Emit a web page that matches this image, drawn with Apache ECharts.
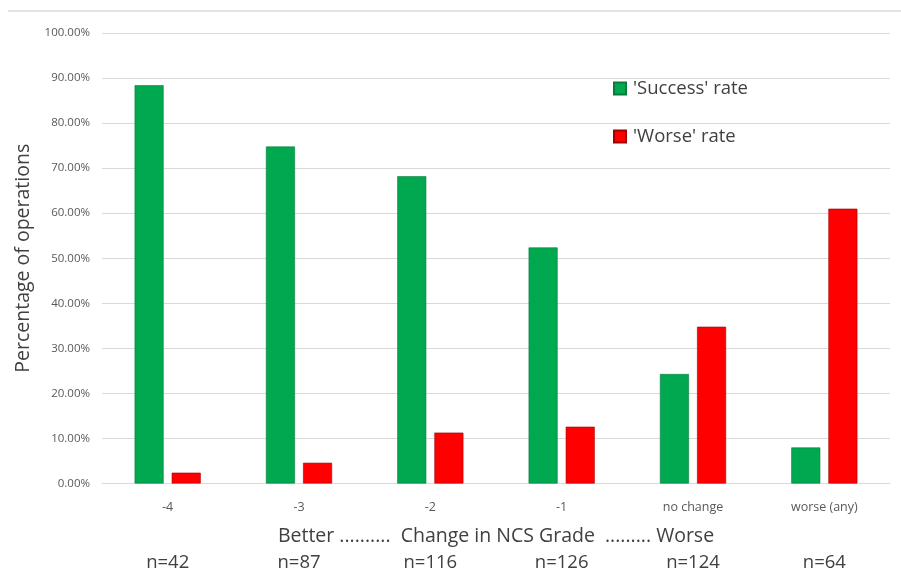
<!DOCTYPE html>
<html>
<head>
<meta charset="utf-8">
<script src="https://cdn.jsdelivr.net/npm/echarts@6/dist/echarts.min.js"></script>
<style>
  html, body { margin: 0; padding: 0; background: #ffffff; }
  #chart { width: 901px; height: 570px; }
</style>
</head>
<body>
<div id="chart"></div>
<script>
// Change in NCS grade categories
const categories = ['-4', '-3', '-2', '-1', 'no change', 'worse (any)'];
// Number of operations per category
const sampleSizes = ['n=42', 'n=87', 'n=116', 'n=126', 'n=124', 'n=64'];
// Rates in percent
const successRate = [88.4, 74.8, 68.2, 52.4, 24.3, 8.0];
const worseRate = [2.4, 4.6, 11.3, 12.6, 34.8, 61.0];
// Y-axis tick range (percent)
const yMin = 0, yMax = 100, yStep = 10;

const FONT = '"Open Sans", "Noto Sans", sans-serif';

const chart = echarts.init(document.getElementById('chart'), null, { renderer: 'canvas' });

chart.setOption({
  backgroundColor: '#ffffff',
  animation: false,
  textStyle: { fontFamily: FONT },
  grid: { left: 102, right: 11, top: 33, bottom: 86.5, containLabel: false, outerBoundsMode: 'none' },
  legend: {
    orient: 'vertical',
    left: 608,
    top: 74,
    itemWidth: 12,
    itemHeight: 12,
    itemGap: 29,
    icon: 'rect',
    textStyle: { fontFamily: FONT, fontSize: 18.5, color: '#404040', padding: [0, 0, 0, 2] },
    data: ["'Success' rate", "'Worse' rate"]
  },
  xAxis: [
    {
      type: 'category',
      data: categories,
      name: 'Better ..........  Change in NCS Grade  ......... Worse',
      nameLocation: 'middle',
      nameGap: 43,
      nameTextStyle: { fontFamily: FONT, fontSize: 19.5, color: '#404040' },
      axisLine: { lineStyle: { color: '#d9d9d9', width: 1 } },
      axisTick: { show: false },
      axisLabel: { fontFamily: FONT, fontSize: 12.5, color: '#595959', margin: 17 }
    },
    {
      type: 'category',
      data: sampleSizes,
      position: 'bottom',
      axisLine: { show: false },
      axisTick: { show: false },
      splitLine: { show: false },
      axisLabel: { fontFamily: FONT, fontSize: 18.5, color: '#404040', margin: 70 }
    }
  ],
  yAxis: {
    type: 'value',
    min: yMin,
    max: yMax,
    interval: yStep,
    name: 'Percentage of operations',
    nameLocation: 'middle',
    nameGap: 63,
    nameRotate: 90,
    nameTextStyle: { fontFamily: FONT, fontSize: 19.5, color: '#404040' },
    axisLine: { show: false },
    axisTick: { show: false },
    axisLabel: {
      fontFamily: FONT, fontSize: 11.5, color: '#595959', margin: 12,
      formatter: v => v.toFixed(2) + '%'
    },
    splitLine: { lineStyle: { color: '#d9d9d9', width: 1 } }
  },
  series: [
    {
      name: "'Success' rate",
      type: 'bar',
      xAxisIndex: 0,
      data: successRate,
      barWidth: 29,
      barGap: '28%',
      itemStyle: { color: '#00a94f', borderColor: '#0a7a3c', borderWidth: 0.6 }
    },
    {
      name: "'Worse' rate",
      type: 'bar',
      xAxisIndex: 0,
      data: worseRate,
      barWidth: 29,
      barGap: '28%',
      itemStyle: { color: '#ff0000', borderColor: '#a30000', borderWidth: 0.6 }
    }
  ],
  graphic: [
    {
      type: 'line',
      shape: { x1: 8, y1: 11, x2: 901, y2: 11 },
      style: { stroke: '#e3e3e3', lineWidth: 2 }
    }
  ]
});
</script>
</body>
</html>
